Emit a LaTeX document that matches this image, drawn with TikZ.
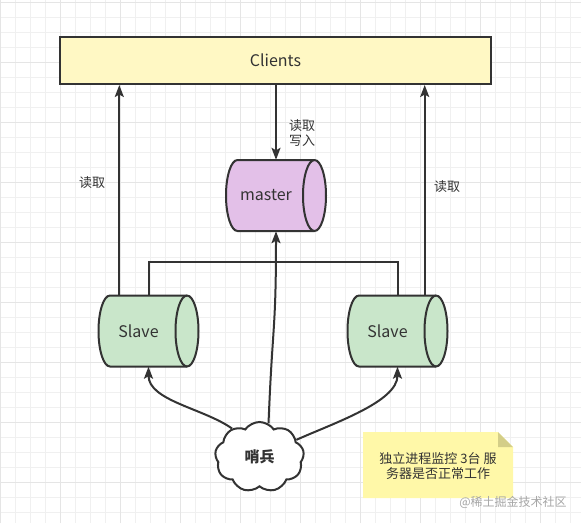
\documentclass[tikz,border=0pt]{standalone}
\usepackage{fontspec}
\setmainfont{Noto Sans CJK SC}
\usetikzlibrary{arrows.meta,calc,shapes.symbols}
\definecolor{ink}{HTML}{333333}
\definecolor{clientfill}{HTML}{FFF8C4}
\definecolor{masterfill}{HTML}{E3C0E8}
\definecolor{slavefill}{HTML}{C9E6CA}
\definecolor{notefill}{HTML}{FFF8A8}
\definecolor{foldfill}{HTML}{D4CE88}
\tikzset{
  drum line/.style={draw=ink, line width=2pt},
  drum/.style={minimum width=100pt, minimum height=71pt, inner sep=0pt},
  drum text/.style={text=ink, font=\fontsize{16}{19}\selectfont},
  link/.style={draw=ink, line width=2pt},
  tip/.style={-{Stealth[length=12pt, width=9pt, inset=2.5pt]}},
  read text/.style={text=ink, font=\fontsize{13}{17}\selectfont, align=left},
}
% sideways drum: name (x,y) fill text
\def\drum#1(#2,#3)#4#5{%
  \filldraw[drum line, fill=#4] (#2-38.5,#3+35.5) -- (#2+38.5,#3+35.5)
    arc (90:-90:11.5pt and 35.5pt) -- (#2-38.5,#3-35.5)
    arc (270:90:11.5pt and 35.5pt) -- cycle;
  \draw[drum line] (#2+38.5,#3+35.5) arc (90:270:11.5pt and 35.5pt);
  \node[drum] (#1) at (#2,#3) {};
  \node[drum text] (#1-text) at (#2-10,#3) {#5};
}

\begin{document}
\begin{tikzpicture}[x=1pt, y=1pt]
  %%%%% START %%%%%
  \useasboundingbox (0,0) rectangle (581,-523);
  \fill[white] (0,0) rectangle (581,-523);
  \draw[black!6, line width=0.6pt, shift={(0,-2)}] (0,2) grid[step=15pt] (581,-521);
  \draw[black!10, line width=0.6pt, shift={(0,-2)}] (0,2) grid[step=60pt] (581,-521);

  \node[draw=ink, line width=2pt, fill=clientfill, minimum width=431pt, minimum height=47pt,
        text=ink, font=\fontsize{16}{19}\selectfont] (clients) at (275.5,-60.5) {Clients};

  \drum{master}(276,-195.5){masterfill}{master}
  \drum{slaveL}(148.5,-331){slavefill}{Slave}
  \drum{slaveR}(397.5,-331){slavefill}{Slave}

  \node[cloud, cloud puffs=9, cloud puff arc=110, aspect=1.25, draw=ink, line width=2pt, fill=white,
        minimum width=89pt, minimum height=70pt, inner sep=0pt,
        text=ink, font=\fontsize{15}{18}\selectfont\bfseries] (sentinel) at (259.5,-457) {哨兵};

  % note
  \fill[notefill] (363,-432) -- (498,-432) -- (513,-447) -- (513,-498) -- (363,-498) -- cycle;
  \fill[foldfill] (498,-432) -- (513,-447) -- (498,-447) -- cycle;
  \node[text=ink, font=\fontsize{13}{15}\selectfont, align=center] (note) at (438,-466)
    {独立进程监控 3台 服\\务器是否正常工作};
  \node[text=black!35, font=\fontsize{12}{14}\selectfont] (mark) at (513,-502.5) {@稀土掘金技术社区};

  % reads and writes
  \coordinate (readL) at ($(slaveL.north west)+(21,0)$);
  \coordinate (readR) at ($(slaveR.north east)+(-23,0)$);
  \draw[link, tip] (readL) -- (readL |- clients.south);
  \draw[link, tip] (readR) -- (readR |- clients.south);
  \draw[link, tip] (clients.south -| master.north) -- (master.north);
  \node[read text] (readLtext) at (92,-183) {读取};
  \node[read text] (readRtext) at (447,-187) {读取};
  \node[read text, anchor=west, inner sep=0pt] (rwtext) at (289,-133) {读取\\[-2pt]写入};

  % replication
  \draw[link] (slaveL.north) -- ++(0,33) -| (slaveR.north);

  % sentinel watches
  \draw[link, tip] (sentinel.75) .. controls +(4,100) and +(0,-100) .. (master.south);
  \draw[link, tip] (sentinel.134) .. controls +(-28,20) and +(0,-34) .. (slaveL.south);
  \draw[link, tip] (sentinel.25) .. controls +(38,17) and +(0,-35) .. (slaveR.south);
  %%%%% END %%%%%
\end{tikzpicture}
\end{document}
